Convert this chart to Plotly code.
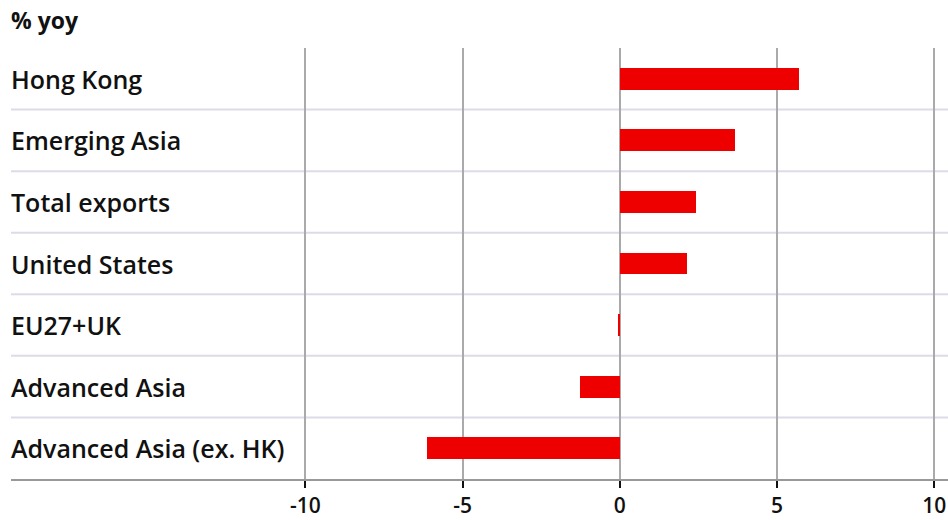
import plotly.graph_objects as go

categories = ["Hong Kong", "Emerging Asia", "Total exports", "United States",
              "EU27+UK", "Advanced Asia", "Advanced Asia (ex. HK)"]
values = [5.71, 3.67, 2.42, 2.14, -0.05, -1.25, -6.12]
tick_vals = [-10, -5, 0, 5, 10]
tick_text = ["-10", "-5", "0", "5", "10"]
title_text = "% yoy"

FONT = "Open Sans"

fig = go.Figure()
fig.add_trace(go.Bar(
    x=values, y=categories, orientation="h",
    marker=dict(color="#ee0000", line=dict(width=0)),
    width=0.355, hoverinfo="x+y",
))

shapes = []
for i in range(len(categories) - 1):
    shapes.append(dict(type="line", xref="paper", yref="y", x0=0, x1=1,
                       y0=i + 0.5, y1=i + 0.5, layer="below",
                       line=dict(color="#dcdce8", width=2)))

annotations = [dict(text=c, x=0, xref="paper", y=c, yref="y", xanchor="left",
                    yanchor="middle", showarrow=False, xshift=-2,
                    font=dict(family=FONT, size=25, color="#111", weight=600))
               for c in categories]
annotations.append(dict(text=title_text, x=0, xref="paper", y=1, yref="paper",
                        xanchor="left", yanchor="bottom", yshift=10, xshift=-2,
                        showarrow=False,
                        font=dict(family=FONT, size=23, color="#111", weight=700)))

fig.update_layout(
    width=948, height=520,
    margin=dict(l=11, r=0, t=48, b=41, autoexpand=False),
    paper_bgcolor="white", plot_bgcolor="white",
    showlegend=False,
    bargap=0,
    shapes=shapes,
    annotations=annotations,
    xaxis=dict(range=[-19.36, 10.44], tickvals=tick_vals, ticktext=tick_text,
               showgrid=True, gridcolor="#aaaaaa", gridwidth=2,
               zeroline=True, zerolinecolor="#aaaaaa", zerolinewidth=2,
               showline=True, linecolor="#999999", linewidth=2,
               ticks="outside", ticklen=7, tickwidth=2, tickcolor="#111",
               tickfont=dict(family=FONT, size=21, color="#111", weight=600),
               automargin=False, fixedrange=True),
    yaxis=dict(categoryorder="array", categoryarray=categories,
               range=[6.5, -0.5], showticklabels=False, showgrid=False,
               zeroline=False, showline=False, ticks="", automargin=False,
               fixedrange=True),
)

fig.write_html("out.html")
